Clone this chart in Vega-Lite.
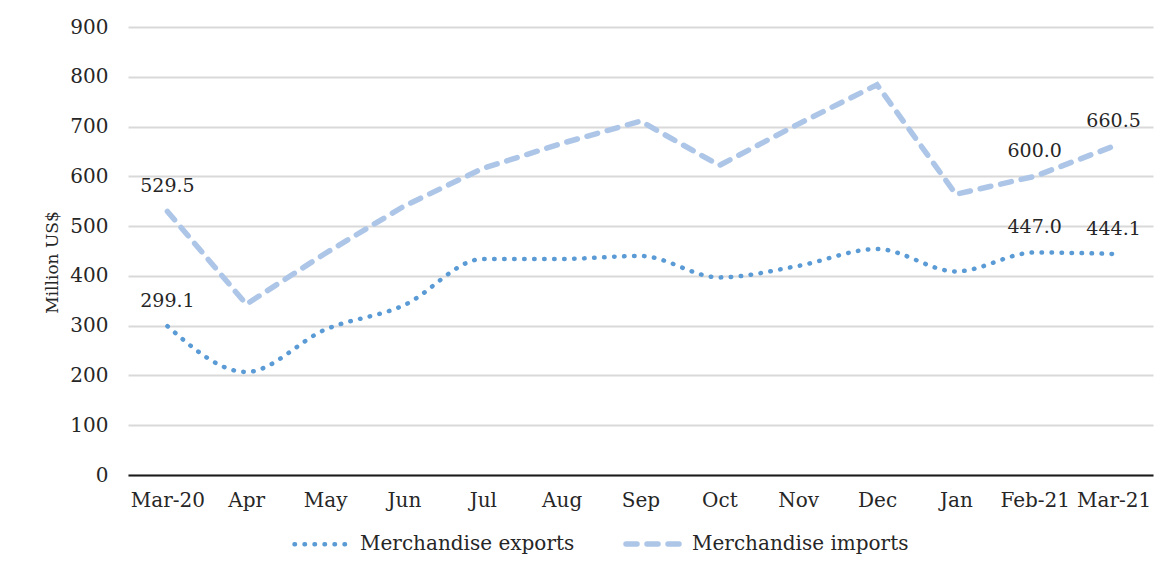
{
  "$schema": "https://vega.github.io/schema/vega-lite/v6.json",
  "width": 1025,
  "height": 448,
  "autosize": {"type": "none"},
  "padding": {"left": 128, "top": 27, "right": 15, "bottom": 93},
  "background": "white",
  "config": {
    "view": {"stroke": null},
    "font": "DejaVu Serif"
  },
  "data": {
    "values": [
      {"month": "Mar-20", "series": "Merchandise exports", "value": 299.1},
      {"month": "Apr", "series": "Merchandise exports", "value": 207},
      {"month": "May", "series": "Merchandise exports", "value": 292},
      {"month": "Jun", "series": "Merchandise exports", "value": 341},
      {"month": "Jul", "series": "Merchandise exports", "value": 434},
      {"month": "Aug", "series": "Merchandise exports", "value": 434},
      {"month": "Sep", "series": "Merchandise exports", "value": 440},
      {"month": "Oct", "series": "Merchandise exports", "value": 397},
      {"month": "Nov", "series": "Merchandise exports", "value": 420},
      {"month": "Dec", "series": "Merchandise exports", "value": 454},
      {"month": "Jan", "series": "Merchandise exports", "value": 409},
      {"month": "Feb-21", "series": "Merchandise exports", "value": 447.0},
      {"month": "Mar-21", "series": "Merchandise exports", "value": 444.1},
      {"month": "Mar-20", "series": "Merchandise imports", "value": 529.5},
      {"month": "Apr", "series": "Merchandise imports", "value": 343},
      {"month": "May", "series": "Merchandise imports", "value": 445},
      {"month": "Jun", "series": "Merchandise imports", "value": 540},
      {"month": "Jul", "series": "Merchandise imports", "value": 616},
      {"month": "Aug", "series": "Merchandise imports", "value": 666},
      {"month": "Sep", "series": "Merchandise imports", "value": 711},
      {"month": "Oct", "series": "Merchandise imports", "value": 622},
      {"month": "Nov", "series": "Merchandise imports", "value": 705},
      {"month": "Dec", "series": "Merchandise imports", "value": 784},
      {"month": "Jan", "series": "Merchandise imports", "value": 564},
      {"month": "Feb-21", "series": "Merchandise imports", "value": 600.0},
      {"month": "Mar-21", "series": "Merchandise imports", "value": 660.5}
    ]
  },
  "encoding": {
    "x": {
      "field": "month",
      "type": "ordinal",
      "sort": null,
      "scale": {"type": "point", "padding": 0.5},
      "axis": {
        "title": null,
        "labelAngle": 0,
        "labelFont": "DejaVu Serif",
        "labelFontSize": 20,
        "labelColor": "#262626",
        "labelPadding": 15,
        "ticks": false,
        "domainColor": "#1a1a1a",
        "domainWidth": 2,
        "grid": false
      }
    },
    "y": {
      "field": "value",
      "type": "quantitative",
      "scale": {"domain": [0, 900], "nice": false},
      "axis": {
        "title": "Million US$",
        "titleFont": "DejaVu Serif",
        "titleFontSize": 17,
        "titleFontWeight": "normal",
        "titleColor": "#262626",
        "titleX": -76,
        "titleY": 235,
        "titleAngle": -90,
        "titleAlign": "center",
        "titleBaseline": "middle",
        "values": [0, 100, 200, 300, 400, 500, 600, 700, 800, 900],
        "labelFont": "DejaVu Serif",
        "labelFontSize": 20,
        "labelColor": "#262626",
        "labelPadding": 20,
        "ticks": false,
        "domain": false,
        "gridColor": "#d9d9d9",
        "gridWidth": 2
      }
    }
  },
  "layer": [
    {
      "mark": {"type": "line", "strokeCap": "round", "interpolate": "monotone"},
      "transform": [{"filter": "datum.series === 'Merchandise exports'"}],
      "encoding": {
        "color": {
          "field": "series",
          "type": "nominal",
          "scale": {"domain": ["Merchandise exports", "Merchandise imports"], "range": ["#5b9bd5", "#adc6e8"]},
          "legend": {
            "title": null,
            "orient": "none",
            "direction": "horizontal",
            "legendX": 164,
            "legendY": 485,
            "padding": 0,
            "symbolType": "stroke",
            "symbolSize": 3364,
            "symbolOpacity": 1,
            "labelFont": "DejaVu Serif",
            "labelFontSize": 20,
            "labelColor": "#262626",
            "labelLimit": 400,
            "labelOffset": 5,
            "columnPadding": 40,
            "encode": {"symbols": {"update": {"strokeCap": {"value": "round"}}}}
          }
        },
        "strokeDash": {
          "field": "series",
          "type": "nominal",
          "scale": {"domain": ["Merchandise exports", "Merchandise imports"], "range": [[0.5, 9.5], [11, 10]]}
        },
        "strokeWidth": {
          "field": "series",
          "type": "nominal",
          "scale": {"domain": ["Merchandise exports", "Merchandise imports"], "range": [4.5, 5.5]}
        }
      }
    },
    {
      "mark": {"type": "line", "strokeCap": "round"},
      "transform": [{"filter": "datum.series === 'Merchandise imports'"}],
      "encoding": {
        "color": {"field": "series", "type": "nominal"},
        "strokeDash": {"field": "series", "type": "nominal"},
        "strokeWidth": {"field": "series", "type": "nominal"}
      }
    },
    {
      "mark": {"type": "text", "font": "DejaVu Serif", "fontSize": 19, "color": "#262626", "baseline": "middle", "dy": -25},
      "transform": [{"filter": {"field": "month", "oneOf": ["Mar-20", "Feb-21", "Mar-21"]}}],
      "encoding": {
        "text": {"field": "value", "type": "quantitative", "format": ".1f"}
      }
    }
  ]
}
